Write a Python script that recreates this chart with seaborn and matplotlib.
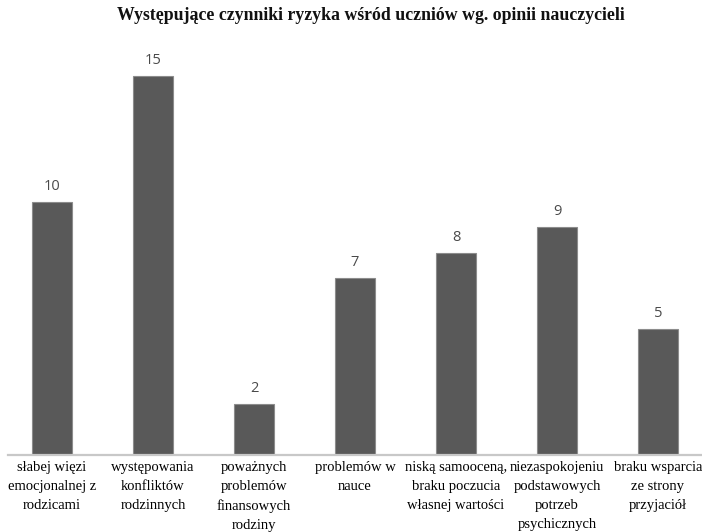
import matplotlib
matplotlib.use("Agg")
import matplotlib.pyplot as plt
import seaborn as sns
import pandas as pd

categories = [
    "słabej więzi\nemocjonalnej z\nrodzicami",
    "występowania\nkonfliktów\nrodzinnych",
    "poważnych\nproblemów\nfinansowych\nrodziny",
    "problemów w\nnauce",
    "niską samooceną,\nbraku poczucia\nwłasnej wartości",
    "niezaspokojeniu\npodstawowych\npotrzeb\npsychicznych",
    "braku wsparcia\nze strony\nprzyjaciół",
]
values = [10, 15, 2, 7, 8, 9, 5]
title = "Występujące czynniki ryzyka wśród uczniów wg. opinii nauczycieli"

df = pd.DataFrame({"kategoria": categories, "liczba": values})

sns.set_theme(style="white")
plt.rcParams['font.family'] = ['Liberation Serif', 'DejaVu Sans']

fig = plt.figure(figsize=(7.02, 5.32), dpi=100)
W, H = 702, 532
left, right = 8, 702
base, top = 455, 455 - 16 * 25.3
ax = fig.add_axes([left / W, 1 - base / H, (right - left) / W, (base - top) / H])

sns.barplot(data=df, x="kategoria", y="liczba", color="#595959", width=0.4,
            saturation=1, edgecolor="#8c8c8c", linewidth=0.8, ax=ax)

ax.set_xlim(-0.436, 6.436)
ax.set_ylim(0, 16)
for s in ["top", "right", "left"]:
    ax.spines[s].set_visible(False)
ax.spines["bottom"].set_color("#c8c8c8")
ax.spines["bottom"].set_linewidth(1.6)
ax.set_yticks([])
ax.set_xlabel("")
ax.set_ylabel("")
ax.tick_params(axis="x", length=0, pad=4)
ax.set_xticks(range(len(categories)))
ax.set_xticklabels(categories, fontsize=10.5, color="#000000", linespacing=1.6,
                   va="top", ha="center")

for i, v in enumerate(values):
    ax.annotate(str(v), (i, v), xytext=(0, 5.7), textcoords="offset points",
                ha="center", va="bottom", fontsize=10.5, color="#4a4a4a",
                family=["Open Sans", "DejaVu Sans"])

fig.text(371 / W, 1 - 15 / H, title, ha="center", va="center", fontsize=12.8,
         fontweight="bold", color="#111111")

fig.savefig("out.png", dpi=100)
